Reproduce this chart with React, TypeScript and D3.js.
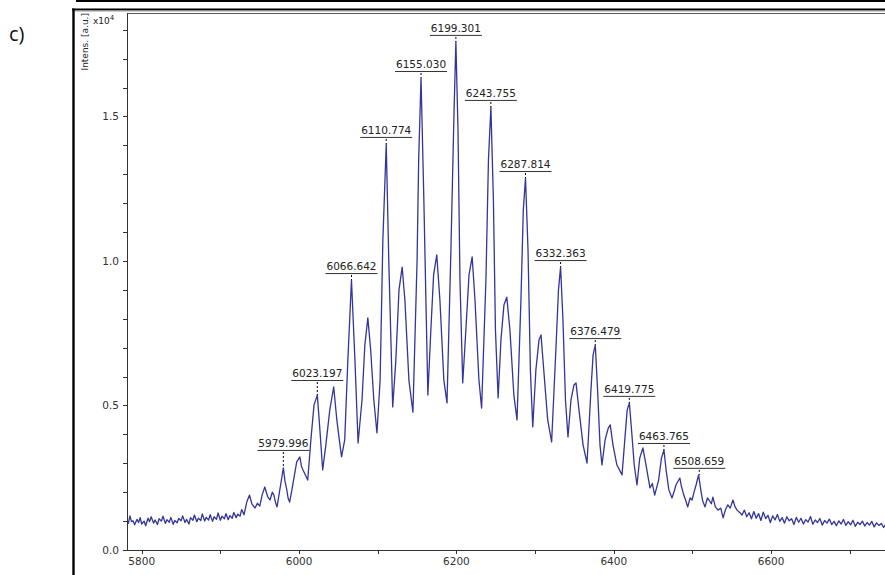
import React from 'react';
import * as d3 from 'd3';

// spectrum points: [m/z, intensity a.u.]
const baselineLeft: [number, number][] = [
  [5781, 1050], [5783, 920], [5785, 1180], [5787, 980], [5789, 1010], [5791, 870],
  [5794, 1060], [5796, 950], [5798, 1120], [5800, 900], [5803, 1000], [5805, 840],
  [5808, 1100], [5810, 980], [5812, 1150], [5815, 930], [5817, 1040], [5820, 880],
  [5822, 1080], [5825, 1000], [5827, 1170], [5830, 920], [5832, 1050], [5835, 960],
  [5837, 1130], [5840, 890], [5842, 1020], [5845, 940], [5847, 1090], [5850, 1010],
  [5852, 1180], [5855, 950], [5857, 1060], [5860, 900], [5862, 1120], [5865, 1030],
  [5867, 1210], [5870, 980], [5872, 1100], [5875, 1020], [5877, 1250], [5880, 1000],
  [5882, 1130], [5885, 1040], [5887, 1220], [5890, 990], [5892, 1150], [5895, 1060],
  [5897, 1280], [5900, 1030], [5902, 1170], [5905, 1080], [5907, 1260], [5910, 1050],
  [5912, 1190], [5915, 1100], [5917, 1300], [5920, 1120], [5922, 1240], [5925, 1170],
  [5927, 1400], [5930, 1220],
];

const peakRegion: [number, number][] = [
  [5933.5, 1660], [5937, 1900], [5940, 1600], [5944, 1450], [5947, 1620], [5950, 1520],
  [5953, 1900], [5956.4, 2180], [5960, 1850], [5963, 1730], [5966, 2000], [5968, 1900],
  [5970, 1650], [5972, 1490], [5975.5, 2080], [5978, 2500], [5980, 2840], [5982, 2400],
  [5984.4, 2080], [5986, 1800], [5988, 1660], [5991, 2100], [5993, 2420], [5997, 3050],
  [6001, 3220], [6003, 2900], [6005, 2770], [6008.6, 2560], [6011, 2420], [6015, 3810],
  [6019, 5020], [6023.2, 5360], [6026, 4330], [6030, 2770], [6034, 3630], [6039, 4840],
  [6044, 5640], [6048, 4500], [6052, 3630], [6054, 3220], [6058, 3810], [6062, 6570],
  [6066.6, 9340], [6071, 6570], [6075, 3700], [6080, 5190], [6083.6, 7090], [6087.4, 8030],
  [6091, 6920], [6095, 5190], [6099, 4050], [6103, 5880], [6106.5, 10730], [6110.8, 14050],
  [6114, 10030], [6119, 4950], [6123, 6570], [6127, 9000], [6131, 9790], [6134.5, 8650],
  [6139.6, 5880], [6144.7, 4770], [6150, 10030], [6152, 13490], [6155, 16330], [6158.6, 12110],
  [6163.7, 5360], [6167.5, 7610], [6171, 9520], [6175, 10210], [6179, 8650], [6184, 5880],
  [6188, 5090], [6193, 10380], [6197, 15220], [6199.3, 17580], [6202, 14530], [6204.5, 9340],
  [6208, 5780], [6212, 7610], [6216, 9520], [6220, 10140], [6223.6, 8650], [6228.6, 5880],
  [6232, 4910], [6237.5, 9340], [6240.7, 13490], [6243.8, 15330], [6247, 12110], [6249.6, 7610],
  [6253, 5260], [6256.6, 7270], [6260.4, 8480], [6264, 8750], [6268, 7610], [6273, 5360],
  [6277, 4500], [6282, 8650], [6285, 11760], [6287.8, 12870], [6291, 10380], [6294, 6230],
  [6297, 4260], [6301, 6230], [6305, 7270], [6307.5, 7440], [6311, 6230], [6316, 4500],
  [6321, 3740], [6326.4, 6920], [6329.7, 9000], [6332.4, 9790], [6335.4, 7960], [6338.6, 5190],
  [6341.8, 3910], [6345.6, 5190], [6349.4, 5710], [6352, 5780], [6355.8, 4840], [6361, 3630],
  [6366, 3010], [6371, 5540], [6373.7, 6750], [6376.5, 7090], [6379.4, 5540], [6382.5, 3630],
  [6385, 2940], [6389, 3810], [6393, 4220], [6395.5, 4330], [6399, 3630], [6404, 2940],
  [6410.5, 2600], [6414, 3810], [6417, 4840], [6419.8, 5090], [6422.6, 4150], [6426, 2940],
  [6429.5, 2250], [6433, 3180], [6437, 3530], [6441, 2940], [6446, 2150], [6449, 2300],
  [6452, 1900], [6457, 2420], [6460.6, 3180], [6463.8, 3460], [6466.5, 2770], [6470, 2080],
  [6474, 1800], [6477, 2050], [6479, 2250], [6484, 2490], [6486, 2200], [6489, 1900],
  [6491, 1750], [6494, 1490], [6497, 1800], [6499.5, 1730], [6502, 2000], [6504.6, 2250],
  [6507.8, 2600], [6511, 2010], [6513, 1700], [6516, 1490], [6519, 1800], [6521, 1730],
  [6524, 1600], [6526, 1830], [6529, 1500], [6532.5, 1380], [6536, 1450], [6539, 1110],
  [6542, 1400], [6545, 1560], [6548, 1450], [6551.5, 1730], [6554, 1500], [6556.7, 1380],
  [6560, 1300], [6563, 1210],
];

const tailRight: [number, number][] = [
  [6566, 1380], [6569, 1150], [6572, 1290], [6575, 1080], [6578, 1330], [6581, 1100],
  [6584, 1260], [6587, 1020], [6590, 1310], [6593, 1090], [6596, 1200], [6599, 950],
  [6602, 1180], [6605, 1040], [6608, 1230], [6611, 990], [6614, 1120], [6617, 930],
  [6620, 1150], [6623, 1010], [6626, 1080], [6629, 880], [6632, 1130], [6635, 960],
  [6638, 1100], [6641, 900], [6644, 1050], [6647, 970], [6650, 1160], [6653, 890],
  [6656, 1040], [6659, 950], [6662, 1090], [6665, 860], [6668, 1020], [6671, 930],
  [6674, 1070], [6677, 880], [6680, 990], [6683, 840], [6686, 1010], [6689, 900],
  [6692, 1060], [6695, 850], [6698, 980], [6701, 870], [6704, 1030], [6707, 820],
  [6710, 960], [6713, 880], [6716, 1000], [6719, 830], [6722, 950], [6725, 860],
  [6728, 990], [6731, 800], [6734, 940], [6737, 850], [6740, 920], [6743, 780], [6746, 900],
];

const peakLabels = [
  5979.996, 6023.197, 6066.642, 6110.774, 6155.03, 6199.301, 6243.755,
  6287.814, 6332.363, 6376.479, 6419.775, 6463.765, 6508.659,
];

const xMajorTicks = [5800, 6000, 6200, 6400, 6600];
const xMinorTicks = [5900, 6100, 6300, 6500, 6700];
const yMajorTicks = [0, 5000, 10000, 15000];
const yMinorTicks = [1000, 2000, 3000, 4000, 6000, 7000, 8000, 9000, 11000, 12000, 13000, 14000, 16000, 17000, 18000];

const W = 885;
const H = 575;
const plot = { left: 127, top: 13, bottom: 550, right: 897 };
const font = '"DejaVu Sans", Verdana, sans-serif';
const lineColor = '#32359a';

export default function App() {
  const spectrum = [...baselineLeft, ...peakRegion, ...tailRight];

  const x = d3.scaleLinear().domain([5780, 6760]).range([plot.left - 1, plot.right]);
  const y = d3.scaleLinear().domain([0, 18580]).range([plot.bottom, plot.top]);

  const line = d3
    .line<[number, number]>()
    .x((d) => x(d[0]))
    .y((d) => y(d[1]));

  // label sits above the highest point near the peak
  const labels = peakLabels.map((mz) => {
    const near = spectrum.filter((d) => Math.abs(d[0] - mz) < 3);
    const apex = d3.max(near, (d) => d[1]) ?? 0;
    const around = spectrum.filter((d) => Math.abs(d[0] - mz) < 24);
    const top = d3.max(around, (d) => d[1]) ?? apex;
    return { mz, apex, lineY: y(top) - 7 };
  });

  return (
    <svg
      width={W}
      height={H}
      style={{ position: 'absolute', left: 0, top: 0, background: '#fff' }}
    >
      <defs>
        <clipPath id="plotClip">
          <rect x={plot.left} y={plot.top} width={plot.right - plot.left} height={plot.bottom - plot.top} />
        </clipPath>
      </defs>

      {/* panel frames */}
      <line x1={76} x2={W} y1={1} y2={1} stroke="#000" strokeWidth={2} />
      <line x1={72} x2={W} y1={9.5} y2={9.5} stroke="#000" strokeWidth={2.2} />
      <line x1={72} x2={W} y1={11} y2={11} stroke="#999" strokeWidth={1} />
      <line x1={73.5} x2={73.5} y1={8.5} y2={H} stroke="#000" strokeWidth={2.4} />

      <text x={9} y={41} fontFamily='"Open Sans", "Noto Sans", sans-serif' fontSize={20} fill="#111">
        c)
      </text>

      {/* plot box top */}
      <line x1={plot.left} x2={W} y1={plot.top + 0.5} y2={plot.top + 0.5} stroke="#555" strokeWidth={1} />

      <g clipPath="url(#plotClip)">
        <path d={line(spectrum) ?? ''} fill="none" stroke={lineColor} strokeWidth={1.3} strokeLinejoin="round" />
      </g>

      {/* axes */}
      <line x1={plot.left + 0.5} x2={plot.left + 0.5} y1={plot.top} y2={plot.bottom + 0.5} stroke="#333" strokeWidth={1} />
      <line x1={plot.left} x2={W} y1={plot.bottom + 0.5} y2={plot.bottom + 0.5} stroke="#333" strokeWidth={1} />

      {yMinorTicks.concat(yMajorTicks).map((t) => (
        <line key={'yt' + t} x1={plot.left - 4} x2={plot.left} y1={Math.round(y(t)) + 0.5} y2={Math.round(y(t)) + 0.5} stroke="#333" />
      ))}
      {yMajorTicks.map((t) => (
        <text key={'yl' + t} x={plot.left - 8} y={y(t) + 4} textAnchor="end" fontFamily={font} fontSize={10.5} fill="#333">
          {(t / 10000).toFixed(1)}
        </text>
      ))}
      {xMinorTicks.concat(xMajorTicks).map((t) => (
        <line key={'xt' + t} x1={Math.round(x(t)) + 0.5} x2={Math.round(x(t)) + 0.5} y1={plot.bottom} y2={plot.bottom + 4} stroke="#333" />
      ))}
      {xMajorTicks.map((t) => (
        <text key={'xl' + t} x={x(t)} y={565} textAnchor="middle" fontFamily={font} fontSize={10.5} fill="#333">
          {t}
        </text>
      ))}

      {/* axis title */}
      <text transform="translate(88,13) rotate(-90)" textAnchor="end" fontFamily={font} fontSize={9} fill="#222">
        Intens. [a.u.]
      </text>
      <text x={93} y={24} fontFamily={font} fontSize={9} fill="#222">
        x10<tspan dy={-4} fontSize={7}>4</tspan>
      </text>

      {/* peak labels */}
      {labels.map((l) => {
        const px = x(l.mz);
        return (
          <g key={l.mz}>
            <text x={px} y={l.lineY - 3} textAnchor="middle" fontFamily={font} fontSize={10.5} fill="#222">
              {l.mz.toFixed(3)}
            </text>
            <line x1={px - 26} x2={px + 26} y1={l.lineY + 0.5} y2={l.lineY + 0.5} stroke="#333" strokeWidth={1} />
            <line x1={px} x2={px} y1={l.lineY + 2} y2={y(l.apex)} stroke="#000" strokeWidth={1} strokeDasharray="2,2" />
          </g>
        );
      })}
    </svg>
  );
}
